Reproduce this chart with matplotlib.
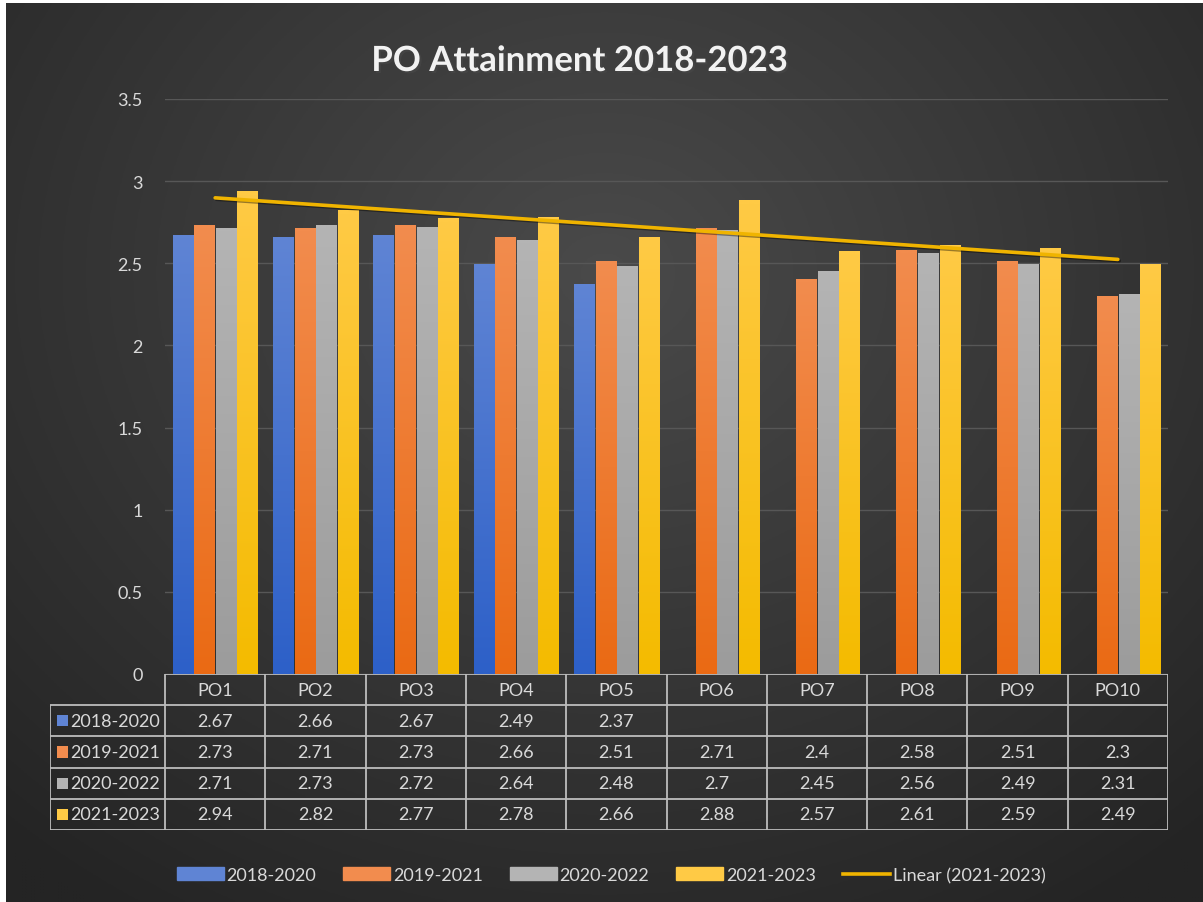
import numpy as np
import matplotlib
matplotlib.use("Agg")
import matplotlib.pyplot as plt
from matplotlib.patches import Rectangle
from matplotlib.lines import Line2D
from matplotlib.colors import to_rgb
import matplotlib.patheffects as pe

plt.rcParams["font.family"] = ["Lato", "DejaVu Sans"]

# data
categories = ["PO1", "PO2", "PO3", "PO4", "PO5", "PO6", "PO7", "PO8", "PO9", "PO10"]
series_names = ["2018-2020", "2019-2021", "2020-2022", "2021-2023"]
nan = np.nan
v_2018_2020 = [2.67, 2.66, 2.67, 2.49, 2.37, nan, nan, nan, nan, nan]
v_2019_2021 = [2.73, 2.71, 2.73, 2.66, 2.51, 2.71, 2.4, 2.58, 2.51, 2.3]
v_2020_2022 = [2.71, 2.73, 2.72, 2.64, 2.48, 2.7, 2.45, 2.56, 2.49, 2.31]
v_2021_2023 = [2.94, 2.82, 2.77, 2.78, 2.66, 2.88, 2.57, 2.61, 2.59, 2.49]
series_values = [v_2018_2020, v_2019_2021, v_2020_2022, v_2021_2023]
y_ticks = [0, 0.5, 1, 1.5, 2, 2.5, 3, 3.5]

# (top colour, bottom colour) per series
bar_colors = [("#5f84d4", "#2d60c8"),
              ("#f28c4e", "#ea6a14"),
              ("#b4b4b4", "#9c9c9c"),
              ("#ffca45", "#f4bb00")]
trend_color = "#f0b400"
text_color = "#d9d9d9"
line_color = "#bdbdbd"

W, H = 1203, 903
fig = plt.figure(figsize=(W / 100, H / 100), dpi=100, facecolor="white")


def fx(px):
    return px / W


def fy(py):
    return 1 - py / H


# radial dark background
bg = fig.add_axes([6 / W, 0, 1 - 6 / W, 1 - 4 / H])
bg.set_axis_off()
yy, xx = np.mgrid[0:1:300j, 0:1:400j]
r = np.sqrt(((xx - 0.5) / 0.75) ** 2 + ((yy - 0.3) / 0.85) ** 2)
r = np.clip(r, 0, 1)
c_in = np.array(to_rgb("#4a4a4a"))
c_out = np.array(to_rgb("#242424"))
img = c_in[None, None, :] * (1 - r[..., None]) + c_out[None, None, :] * r[..., None]
bg.imshow(img, aspect="auto", extent=[0, 1, 0, 1], origin="upper")
bg.set_xlim(0, 1)
bg.set_ylim(0, 1)

# main plot area
ax_l, ax_r, ax_t, ax_b = 165, 1168, 100, 675
ax = fig.add_axes([fx(ax_l), fy(ax_b), (ax_r - ax_l) / W, (ax_b - ax_t) / H])
ax.set_facecolor("none")
x = np.arange(1, len(categories) + 1)
ax.set_yticks(y_ticks)
ax.set_yticklabels([f"{t:g}" for t in y_ticks])
ax.tick_params(axis="y", length=0, pad=16, labelsize=13, labelcolor=text_color)
ax.set_xticks([])
for s in ax.spines.values():
    s.set_visible(False)
ax.grid(axis="y", color="#575757", linewidth=1)
ax.set_axisbelow(True)

bar_w = 0.2
step = 0.215
for i, (vals, (ctop, cbot)) in enumerate(zip(series_values, bar_colors)):
    xs = x + (i - 1.5) * step
    grad = np.linspace(0, 1, 64)[:, None, None]
    top = np.array(to_rgb(ctop))
    bot = np.array(to_rgb(cbot))
    gimg = top * (1 - grad) + bot * grad
    for xc, v in zip(xs, vals):
        if np.isnan(v):
            continue
        ax.imshow(gimg, extent=[xc - bar_w / 2, xc + bar_w / 2, 0, v],
                  aspect="auto", origin="upper", zorder=2, interpolation="bilinear")

# linear trend of the last series
coef = np.polyfit(x, v_2021_2023, 1)
ax.plot(x[[0, -1]], np.polyval(coef, x[[0, -1]]), color=trend_color, lw=2.6,
        zorder=3, solid_capstyle="round",
        path_effects=[pe.SimpleLineShadow(offset=(1, -1), alpha=0.4), pe.Normal()])
ax.set_xlim(0.5, len(categories) + 0.5)
ax.set_ylim(0, 3.5)

# data table
tab_l, tab_t, tab_b = 50, 675, 831
unit = (ax_r - ax_l) / len(categories)
tab = fig.add_axes([fx(tab_l), fy(tab_b), (ax_r - tab_l) / W, (tab_b - tab_t) / H])
tab.set_axis_off()
left = 0.5 - (ax_l - tab_l) / unit
right = len(categories) + 0.5
tab.set_xlim(left, right)
tab.set_ylim(5, 0)
lk = dict(color=line_color, lw=1.3, solid_capstyle="butt")
tab.plot([0.5, right], [0, 0], **lk)
for r_ in range(1, 6):
    tab.plot([left, right], [r_, r_], **lk)
tab.plot([left, left], [1, 5], **lk)
for c in range(len(categories) + 1):
    tab.plot([c + 0.5, c + 0.5], [0, 5], **lk)
for c, name in enumerate(categories):
    tab.text(c + 1, 0.5, name, ha="center", va="center", fontsize=13, color=text_color)
for r_, (name, vals) in enumerate(zip(series_names, series_values)):
    yc = r_ + 1.5
    sq = 11 / unit
    tab.add_patch(Rectangle((left + 7 / unit, yc - 0.18), sq, 0.36,
                            color=bar_colors[r_][0], lw=0))
    tab.text(left + 20 / unit, yc, name, ha="left", va="center", fontsize=13,
             color=text_color)
    for c, v in enumerate(vals):
        if np.isnan(v):
            continue
        tab.text(c + 1, yc, f"{v:g}", ha="center", va="center", fontsize=13,
                 color=text_color)

# title
fig.text(fx(580), fy(62), "PO Attainment 2018-2023", ha="center", va="center",
         fontsize=25, fontweight="bold", color="#f2f2f2",
         path_effects=[pe.withSimplePatchShadow(offset=(1.5, -1.5), alpha=0.6)])

# legend
handles = [Rectangle((0, 0), 1, 1, color=c[0]) for c in bar_colors]
handles.append(Line2D([0], [0], color=trend_color, lw=2.6))
labels = series_names + ["Linear (2021-2023)"]
fig.legend(handles, labels, loc="center", bbox_to_anchor=(fx(611), fy(876)),
           ncol=5, frameon=False, handlelength=2.6, handleheight=0.75,
           handletextpad=0.15, columnspacing=1.5, fontsize=13,
           labelcolor=text_color)

fig.savefig("out.png", dpi=100, facecolor=fig.get_facecolor())
